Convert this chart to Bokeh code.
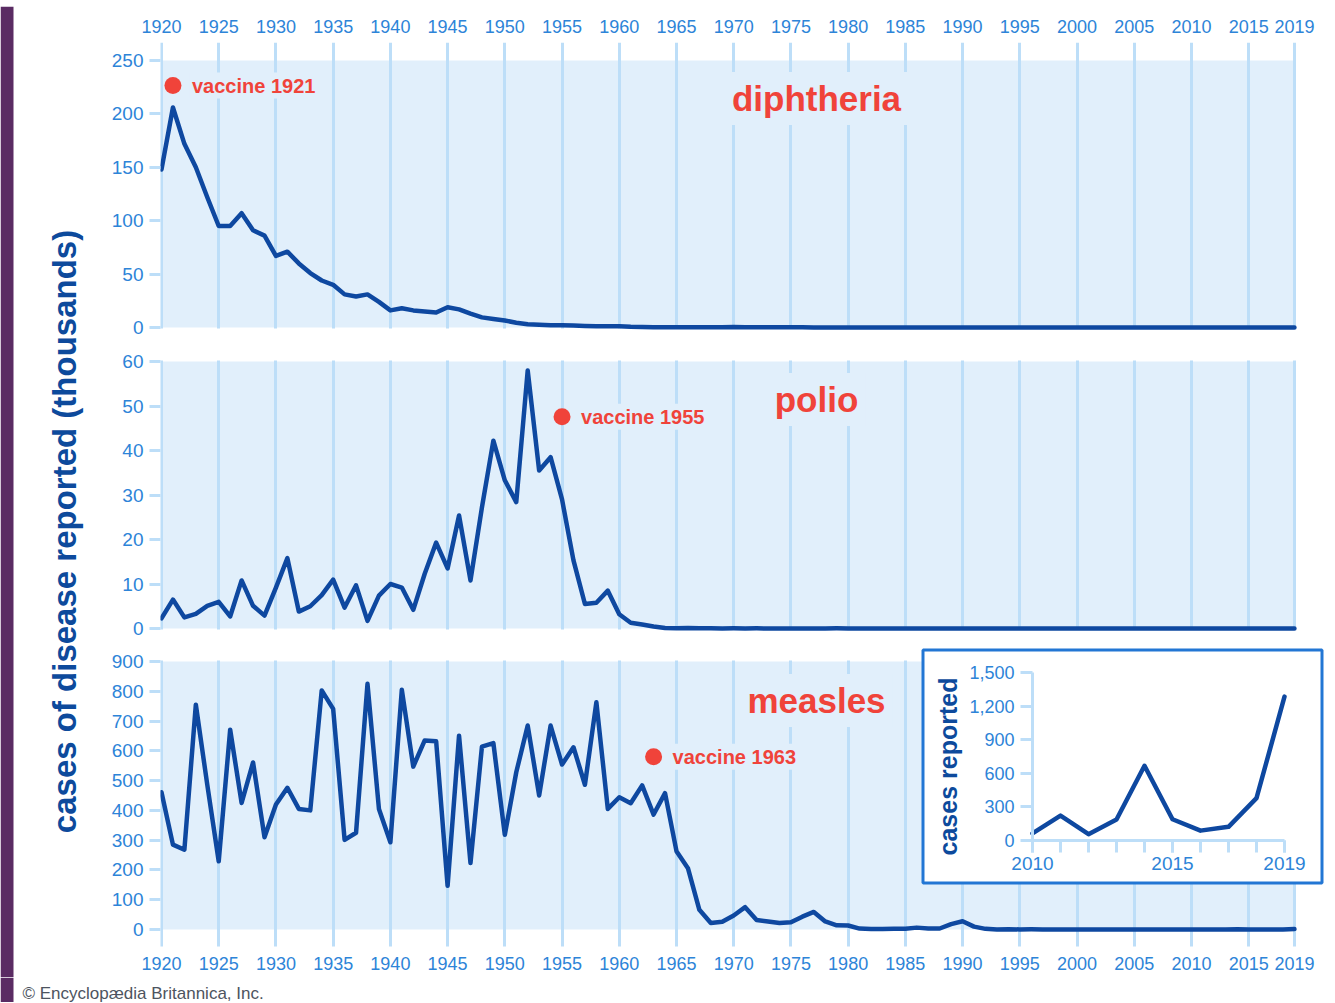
from bokeh.plotting import figure
from bokeh.models import (Range1d, LinearAxis, FixedTicker, Grid, Label, BoxAnnotation,
                          NumeralTickFormatter)
from bokeh.layouts import column, row
from bokeh.embed import file_html
from bokeh.resources import INLINE

# ---------------- data (thousands of cases) ----------------
years = list(range(1920, 2020))

diphtheria = [148, 206, 172, 150, 122, 95, 95, 107, 91, 86,
              67, 71, 60, 51, 44, 40, 31, 29, 31, 24,
              16, 18, 16, 15, 14, 19, 17, 13, 9.5, 8,
              6.5, 4.5, 3.0, 2.5, 2.2, 2.2, 1.8, 1.5, 1.2, 1.2,
              1.1, 0.6, 0.45, 0.35, 0.3, 0.2, 0.2, 0.2, 0.25, 0.25,
              0.4, 0.2, 0.15, 0.2, 0.25, 0.3, 0.13, 0.08, 0.08, 0.06,
              0.003, 0.002, 0.002, 0.005, 0.001, 0.003, 0.0, 0.003, 0.002, 0.003,
              0.004, 0.005, 0.004, 0.0, 0.002, 0.0, 0.002, 0.005, 0.001, 0.001,
              0.001, 0.002, 0.001, 0.001, 0.0, 0.0, 0.0, 0.0, 0.0, 0.0,
              0.0, 0.0, 0.001, 0.0, 0.001, 0.0, 0.0, 0.0, 0.001, 0.002]

polio = [2.3, 6.5, 2.5, 3.3, 5.1, 6.0, 2.7, 10.8, 5.1, 2.9,
         9.2, 15.8, 3.8, 5.0, 7.5, 11.0, 4.7, 9.7, 1.7, 7.4,
         10.0, 9.2, 4.2, 12.3, 19.3, 13.5, 25.4, 10.8, 27.2, 42.2,
         33.3, 28.4, 58.0, 35.5, 38.5, 29.0, 15.3, 5.5, 5.8, 8.5,
         3.2, 1.3, 0.9, 0.45, 0.12, 0.07, 0.11, 0.04, 0.05, 0.02,
         0.03, 0.02, 0.03, 0.01, 0.01, 0.01, 0.01, 0.02, 0.01, 0.03,
         0.01, 0.01, 0.01, 0.01, 0.01, 0.01, 0.01, 0.01, 0.01, 0.01,
         0.01, 0.01, 0.01, 0.01, 0.01, 0.01, 0.01, 0.01, 0.0, 0.0,
         0.0, 0.0, 0.0, 0.0, 0.0, 0.0, 0.0, 0.0, 0.0, 0.0,
         0.0, 0.0, 0.0, 0.0, 0.0, 0.0, 0.0, 0.0, 0.0, 0.0]

measles = [461, 285, 268, 755, 486, 229, 671, 425, 561, 310,
           420, 476, 405, 400, 803, 741, 301, 325, 825, 405,
           293, 805, 547, 635, 632, 147, 651, 223, 614, 626,
           318, 528, 685, 450, 685, 554, 612, 486, 763, 405,
           444, 424, 484, 386, 458, 263, 206, 66, 22, 26,
           47, 75, 32, 27, 22, 24, 43, 59, 27, 14,
           13.5, 3.0, 1.7, 1.5, 2.6, 2.8, 6.3, 3.7, 3.4, 18.2,
           27.8, 9.6, 2.2, 0.3, 1.0, 0.3, 0.5, 0.14, 0.1, 0.1,
           0.09, 0.12, 0.04, 0.06, 0.04, 0.07, 0.06, 0.04, 0.14, 0.07,
           0.06, 0.22, 0.06, 0.19, 0.67, 0.19, 0.09, 0.12, 0.38, 1.28]

year_ticks = [1920, 1925, 1930, 1935, 1940, 1945, 1950, 1955, 1960, 1965, 1970,
              1975, 1980, 1985, 1990, 1995, 2000, 2005, 2010, 2015, 2019]
diph_ticks = [0, 50, 100, 150, 200, 250]
polio_ticks = [0, 10, 20, 30, 40, 50, 60]
measles_ticks = [0, 100, 200, 300, 400, 500, 600, 700, 800, 900]

disease_names = ["diphtheria", "polio", "measles"]
vaccine_years = [1921, 1955, 1963]
vaccine_labels = ["vaccine 1921", "vaccine 1955", "vaccine 1963"]

inset_years = list(range(2010, 2020))
inset_cases = [63, 222, 56, 187, 667, 190, 88, 122, 378, 1285]
inset_label_years = [2010, 2015, 2019]
inset_y_ticks = [0, 300, 600, 900, 1200, 1500]

y_title = "cases of disease reported (thousands)"
inset_title = "cases reported"
credit = "\u00a9 Encyclop\u00e6dia Britannica, Inc."

# ---------------- style / layout ----------------
FONT = "Liberation Sans"
LINE = "#0e48a0"
SHADE = "#e1effb"
GRID = "#bddef8"
TICKC = "#2d84d8"
RED = "#f0433a"
DARK = "#0d4a9c"
BOXC = "#2276d4"
PURPLE = "#5a2b63"
PURPLE_TOP = "#4f2a5c"

TOP_BAR = 6
LAB_W = 100
BORDER_L = 60
FRAME_W = 1166
BORDER_R = 4
PANEL_W = BORDER_L + FRAME_W + BORDER_R
PX_YEAR = 11.444
X0 = 1920 - 1.0 / PX_YEAR
X1 = X0 + FRAME_W / PX_YEAR
x_range = Range1d(X0, X1)

# dot heights as fraction of axis max (layout)
DOT_FRAC = [0.906, 0.793, 0.645]


def make_panel(values, ticks, frame_h, top_off, zero_off, b_top, b_bot, xloc, g_top, g_bot):
    ymax = ticks[-1]
    ppu = (zero_off - top_off) / ymax
    y1 = ymax + top_off / ppu
    y0 = y1 - frame_h / ppu
    p = figure(width=PANEL_W, height=b_top + frame_h + b_bot,
               x_range=x_range, y_range=Range1d(y0, y1),
               x_axis_location=xloc, y_axis_location="left",
               toolbar_location=None, output_backend="svg",
               min_border_left=BORDER_L, min_border_right=BORDER_R,
               min_border_top=b_top, min_border_bottom=b_bot)
    p.outline_line_color = None
    p.background_fill_color = "white"
    p.grid.visible = False

    g = Grid(dimension=0, ticker=FixedTicker(ticks=year_ticks),
             cross_bounds=(y1 - g_bot / ppu, y1 - g_top / ppu),
             grid_line_color=GRID, grid_line_width=3)
    p.add_layout(g)

    p.quad(left=years[0], right=years[-1], bottom=0, top=ymax,
           fill_color=SHADE, line_color=None, level="image")
    p.line(years, values, line_width=4.5, line_color=LINE, line_join="round", line_cap="round")

    ya = p.yaxis[0]
    ya.ticker = FixedTicker(ticks=ticks)
    ya.axis_line_color = None
    ya.major_tick_line_color = GRID
    ya.major_tick_line_width = 3
    ya.major_tick_out = 11
    ya.major_tick_in = 0
    ya.minor_tick_line_color = None
    ya.major_label_text_color = TICKC
    ya.major_label_text_font = FONT
    ya.major_label_text_font_size = "19px"
    ya.major_label_standoff = 6

    if xloc is not None:
        xa = p.xaxis[0]
        xa.ticker = FixedTicker(ticks=year_ticks)
        xa.axis_line_color = None
        xa.major_tick_line_color = None
        xa.minor_tick_line_color = None
        xa.major_label_text_color = TICKC
        xa.major_label_text_font = FONT
        xa.major_label_text_font_size = "18px"
        xa.major_label_standoff = 4 if xloc == "above" else 3
    return p, ymax


def add_labels(p, idx, ymax, name_sx, name_sy):
    p.scatter([vaccine_years[idx]], [DOT_FRAC[idx] * ymax], size=17,
              fill_color=RED, line_color=None)
    p.add_layout(Label(x=vaccine_years[idx], y=DOT_FRAC[idx] * ymax, x_offset=17,
                       text=vaccine_labels[idx], text_font=FONT, text_font_style="bold",
                       text_font_size="20px", text_color=RED, text_baseline="middle",
                       background_fill_color=SHADE, padding=2))
    p.add_layout(Label(x=name_sx, y=name_sy, x_units="screen", y_units="screen",
                       text=disease_names[idx], text_font=FONT, text_font_style="bold",
                       text_font_size="35px", text_color=RED, text_align="center",
                       text_baseline="middle", background_fill_color=SHADE, padding=7))


# panel 1: diphtheria (frame y 42..331)
f1, m1 = make_panel(diphtheria, diph_ticks, 289, 18, 285, 42 - TOP_BAR, 17, "above", 0, 286)
add_labels(f1, 0, m1, 656, 233)

# panel 2: polio (frame y 358..632)
f2, m2 = make_panel(polio, polio_ticks, 274, 3, 270, 10, 8, None, 2, 271)
add_labels(f2, 1, m2, 656, 233)

# panel 3: measles (frame y 645..947)
f3, m3 = make_panel(measles, measles_ticks, 302, 16, 284, 5, 30, "below", 15, 301)
add_labels(f3, 2, m3, 656, 247)

# ---- inset on panel 3 ----
IPX = 28.0
ix0 = 2010 - 872 / IPX
ix1 = ix0 + FRAME_W / IPX
ippu = 168 / 1500
iy1 = 1500 + 27 / ippu
iy0 = iy1 - 302 / ippu
f3.extra_x_ranges = {"inset": Range1d(ix0, ix1)}
f3.extra_y_ranges = {"inset": Range1d(iy0, iy1)}

box = BoxAnnotation(left=762.5, right=1161.5, bottom=64.5, top=297.5,
                    left_units="screen", right_units="screen",
                    bottom_units="screen", top_units="screen",
                    fill_color="white", fill_alpha=1.0,
                    line_color=BOXC, line_width=3, line_alpha=1.0, level="underlay")
f3.add_layout(box)

f3.line(inset_years, inset_cases, x_range_name="inset", y_range_name="inset",
        line_width=4.5, line_color=LINE, line_join="round", line_cap="round")

ixa = LinearAxis(x_range_name="inset", y_range_name="inset", fixed_location=0,
                 bounds=(inset_years[0], inset_years[-1]),
                 ticker=FixedTicker(ticks=inset_label_years, minor_ticks=inset_years))
ixa.axis_line_color = GRID
ixa.axis_line_width = 3
ixa.major_tick_line_color = GRID
ixa.major_tick_line_width = 3
ixa.major_tick_out = 12
ixa.major_tick_in = 0
ixa.minor_tick_line_color = GRID
ixa.minor_tick_line_width = 3
ixa.minor_tick_out = 12
ixa.minor_tick_in = 0
ixa.major_label_text_color = TICKC
ixa.major_label_text_font = FONT
ixa.major_label_text_font_size = "19px"
ixa.major_label_standoff = 4
f3.add_layout(ixa, "below")

iya = LinearAxis(x_range_name="inset", y_range_name="inset", fixed_location=2010,
                 bounds=(inset_y_ticks[0], inset_y_ticks[-1]),
                 ticker=FixedTicker(ticks=inset_y_ticks),
                 formatter=NumeralTickFormatter(format="0,0"))
iya.axis_line_color = GRID
iya.axis_line_width = 3
iya.major_tick_line_color = GRID
iya.major_tick_line_width = 3
iya.major_tick_out = 12
iya.major_tick_in = 0
iya.minor_tick_line_color = None
iya.major_label_text_color = TICKC
iya.major_label_text_font = FONT
iya.major_label_text_font_size = "18px"
iya.major_label_standoff = 6
f3.add_layout(iya, "left")

f3.add_layout(Label(x=787, y=181, x_units="screen", y_units="screen", text=inset_title,
                    angle=90, angle_units="deg", text_align="center", text_baseline="middle",
                    text_font=FONT, text_font_style="bold", text_font_size="25px",
                    text_color=DARK))

# ---- top purple page edge ----
top = figure(width=LAB_W + PANEL_W, height=TOP_BAR, x_axis_location=None, y_axis_location=None,
             toolbar_location=None, output_backend="svg", min_border=0)
top.outline_line_color = None
top.grid.visible = False
top.add_layout(BoxAnnotation(left=0, right=LAB_W + PANEL_W, bottom=0, top=TOP_BAR,
                             left_units="screen", right_units="screen",
                             bottom_units="screen", top_units="screen",
                             fill_color=PURPLE_TOP, fill_alpha=1.0, line_color=None))

# ---- left title column ----
H_PANELS = f1.height + f2.height + f3.height
lab = figure(width=LAB_W, height=H_PANELS, x_axis_location=None, y_axis_location=None,
             toolbar_location=None, output_backend="svg", min_border=0)
lab.outline_line_color = None
lab.grid.visible = False
lab.add_layout(BoxAnnotation(left=0, right=13, bottom=0, top=H_PANELS,
                             left_units="screen", right_units="screen",
                             bottom_units="screen", top_units="screen",
                             fill_color=PURPLE, fill_alpha=1.0, line_color=None))
lab.add_layout(Label(x=64, y=446, x_units="screen", y_units="screen", text=y_title,
                     angle=90, angle_units="deg", text_align="center", text_baseline="middle",
                     text_font=FONT, text_font_style="bold", text_font_size="33px",
                     text_color=DARK))

# ---- footer ----
FOOT_H = 25
foot = figure(width=LAB_W + PANEL_W, height=FOOT_H, x_axis_location=None, y_axis_location=None,
              toolbar_location=None, output_backend="svg", min_border=0)
foot.outline_line_color = None
foot.grid.visible = False
foot.add_layout(BoxAnnotation(left=0, right=13, bottom=0, top=FOOT_H,
                              left_units="screen", right_units="screen",
                              bottom_units="screen", top_units="screen",
                              fill_color=PURPLE, fill_alpha=1.0, line_color=None))
foot.add_layout(Label(x=22, y=9, x_units="screen", y_units="screen", text=credit,
                      text_font=FONT, text_font_size="17px", text_color="#4d5460",
                      text_baseline="middle"))

layout = column(top, row(lab, column(f1, f2, f3)), foot)
open("out.html", "w").write(file_html(layout, INLINE))
